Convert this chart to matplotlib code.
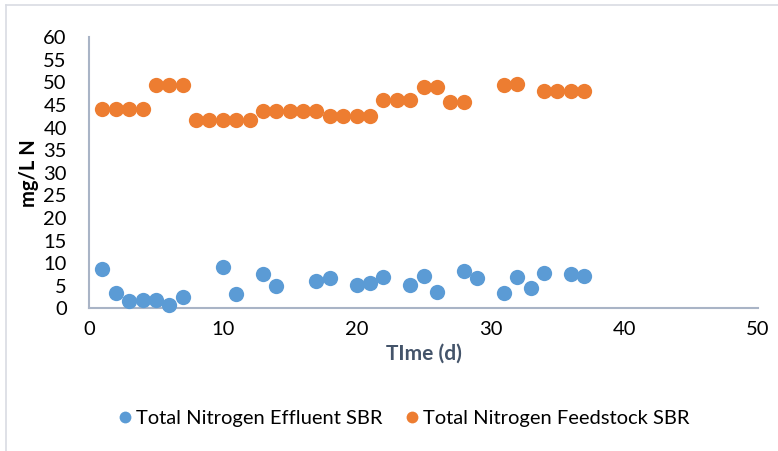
import matplotlib
matplotlib.use("Agg")
import matplotlib.pyplot as plt
from matplotlib.lines import Line2D

plt.rcParams['font.family'] = ['Lato', 'DejaVu Sans']

# Sampling days and total nitrogen (mg/L N)
days_effluent = [1, 2, 3, 4, 5, 6, 7, 10, 11, 13, 14, 17, 18, 20, 21, 22,
                 24, 25, 26, 28, 29, 31, 32, 33, 34, 36, 37]
tn_effluent = [8.6, 3.4, 1.6, 1.9, 1.8, 0.8, 2.5, 9.1, 3.1, 7.5, 4.9, 6.0,
               6.7, 5.2, 5.6, 6.9, 5.2, 7.1, 3.6, 8.3, 6.8, 3.4, 6.9, 4.6,
               7.9, 7.7, 7.1]

days_feed = [1, 2, 3, 4, 5, 6, 7, 8, 9, 10, 11, 12, 13, 14, 15, 16, 17, 18,
             19, 20, 21, 22, 23, 24, 25, 26, 27, 28, 31, 32, 34, 35, 36, 37]
tn_feed = [44.2, 44.2, 44.2, 44.2, 49.5, 49.5, 49.5, 41.8, 41.8, 41.8, 41.8,
           41.8, 43.7, 43.7, 43.7, 43.7, 43.7, 42.5, 42.5, 42.5, 42.5, 46.2,
           46.2, 46.2, 49.1, 49.1, 45.6, 45.6, 49.5, 49.7, 48.1, 48.1, 48.1,
           48.1]

x_ticks = [0, 10, 20, 30, 40, 50]
y_ticks = list(range(0, 61, 5))

blue = '#5B9BD5'
orange = '#ED7D31'
axis_col = '#A9B4C6'

fig = plt.figure(figsize=(7.78, 4.51), dpi=100)
ax = fig.add_axes([0.1144, 0.3164, 0.8599, 0.6009])

ax.plot(days_effluent, tn_effluent, 'o', color=blue, markersize=11,
        markeredgewidth=0, clip_on=False, zorder=3)
ax.plot(days_feed, tn_feed, 'o', color=orange, markersize=11,
        markeredgewidth=0, clip_on=False, zorder=3)

ax.set_xlim(0, 50)
ax.set_ylim(0, 60)
ax.set_xticks(x_ticks)
ax.set_yticks(y_ticks)
ax.tick_params(axis='both', length=0, labelsize=14.5, colors='#000000')
ax.tick_params(axis='x', pad=9)
ax.tick_params(axis='y', pad=16)

for side in ['top', 'right']:
    ax.spines[side].set_visible(False)
for side in ['left', 'bottom']:
    ax.spines[side].set_color(axis_col)
    ax.spines[side].set_linewidth(1.5)

ax.set_xlabel('TIme (d)', fontsize=15, fontweight='bold', color='#44546A',
              labelpad=4)
ax.set_ylabel('mg/L N', fontsize=14.5, fontweight='bold', color='#000000',
              labelpad=3)

handles = [
    Line2D([], [], marker='o', linestyle='none', color=blue, markersize=8.5,
           markeredgewidth=0, label='Total Nitrogen Effluent SBR'),
    Line2D([], [], marker='o', linestyle='none', color=orange, markersize=8.5,
           markeredgewidth=0, label='Total Nitrogen Feedstock SBR'),
]
fig.legend(handles=handles, loc='center', bbox_to_anchor=(0.517, 0.073),
           ncol=2, frameon=False, fontsize=14.5, handletextpad=0.05,
           columnspacing=1.0, handlelength=1.0)

# Chart-area border along the top and left edges
fig.add_artist(Line2D([0.0077, 1.0], [0.989, 0.989], color='#D9DCE3',
                      linewidth=1.2, transform=fig.transFigure))
fig.add_artist(Line2D([0.0077, 0.0077], [0.0, 0.989], color='#D9DCE3',
                      linewidth=1.2, transform=fig.transFigure))

fig.savefig('out.png', dpi=100)
